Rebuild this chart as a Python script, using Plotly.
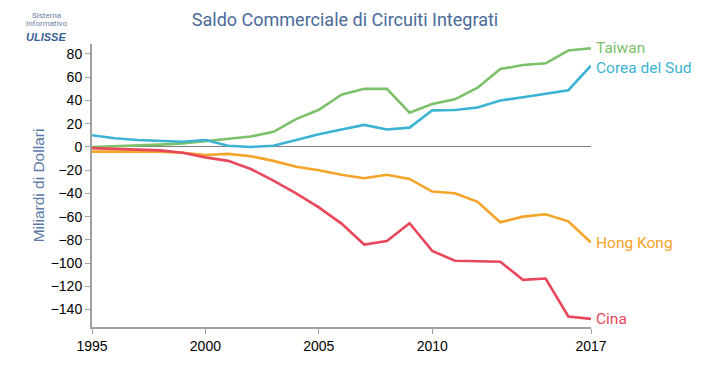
import plotly.graph_objects as go

years = list(range(1995, 2018))
taiwan = [0, 0.5, 1, 2, 3, 5, 7, 9, 13, 24, 32, 45, 50, 50, 29.5, 37, 41, 51, 67, 70.5, 72, 83, 85]
corea = [10, 7.5, 6, 5.5, 4.5, 6, 1, 0, 1, 6, 11, 15, 19, 15, 16.6, 31.5, 31.8, 34, 40, 42.7, 45.6, 48.8, 70]
hongkong = [-4, -4, -4.5, -4, -5, -7, -6, -8, -12, -17, -20, -24, -27, -24, -27.5, -38.4, -39.9, -47.3, -64.8, -60, -58, -64, -82.3]
cina = [-1, -1.5, -2, -3, -5, -9, -12, -19, -29, -40, -52, -66, -84, -81, -65.7, -89.5, -98, -98.6, -98.8, -114.4, -113.3, -146, -148]

names = ["Taiwan", "Corea del Sud", "Hong Kong", "Cina"]
series = [taiwan, corea, hongkong, cina]
colors = ["#7cc06a", "#3cb3d2", "#f5a42a", "#e8475c"]
label_shift_y = [0, -2, 0, 0]

fig = go.Figure()
for n, s, c in zip(names, series, colors):
    fig.add_trace(go.Scatter(x=years, y=s, mode="lines", name=n,
                             line=dict(color=c, width=2.6), hoverinfo="x+y+name"))
for n, s, c, dy in zip(names, series, colors, label_shift_y):
    fig.add_annotation(x=years[-1], y=s[-1], text=n, showarrow=False,
                       xanchor="left", yanchor="middle", xshift=3, yshift=dy,
                       font=dict(family="Roboto", size=15.5, color=c))

# logo
for txt, yp, sz, fam, col in [("Sistema", 15.5, 8, "Roboto", "#6a80a8"),
                              ("Informativo", 24, 8, "Roboto", "#6a80a8"),
                              ("<b><i>ULISSE</i></b>", 36.5, 11, "Liberation Sans Narrow, Liberation Sans", "#3a5f9a")]:
    fig.add_annotation(xref="paper", yref="paper", x=(46 - 92) / 499, y=(327 - yp) / 283,
                       text=txt, showarrow=False, xanchor="center", yanchor="middle",
                       font=dict(family=fam, size=sz, color=col))

fig.update_layout(
    width=708, height=382,
    margin=dict(l=84, r=125, t=36, b=63, autoexpand=False),
    paper_bgcolor="white", plot_bgcolor="white",
    showlegend=False,
    title=dict(text="Saldo Commerciale di Circuiti Integrati", x=0.476, xanchor="center",
               y=0.969, yanchor="middle",
               font=dict(family="Roboto", size=18, color="#4a6a9a")),
    xaxis=dict(range=[1995, 2017], tickvals=[1995, 2000, 2005, 2010, 2017], automargin=False,
               showgrid=False, zeroline=False, showline=True, linecolor="#a0a0a0", linewidth=2,
               ticks="outside", ticklen=5, tickcolor="#a0a0a0",
               tickfont=dict(family="Liberation Sans", size=14, color="black")),
    yaxis=dict(range=[-155, 88.6], tickvals=list(range(-140, 81, 20)), automargin=False,
               showgrid=False, zeroline=True, zerolinecolor="#808080", zerolinewidth=1,
               showline=True, linecolor="#a0a0a0", linewidth=2,
               ticks="outside", ticklen=5, tickcolor="#a0a0a0",
               tickfont=dict(family="Liberation Sans", size=14, color="black"),
               title=dict(text="Miliardi di Dollari", standoff=2,
                          font=dict(family="Liberation Sans", size=15.5, color="#5a78a8"))),
)

fig.write_html("out.html")
